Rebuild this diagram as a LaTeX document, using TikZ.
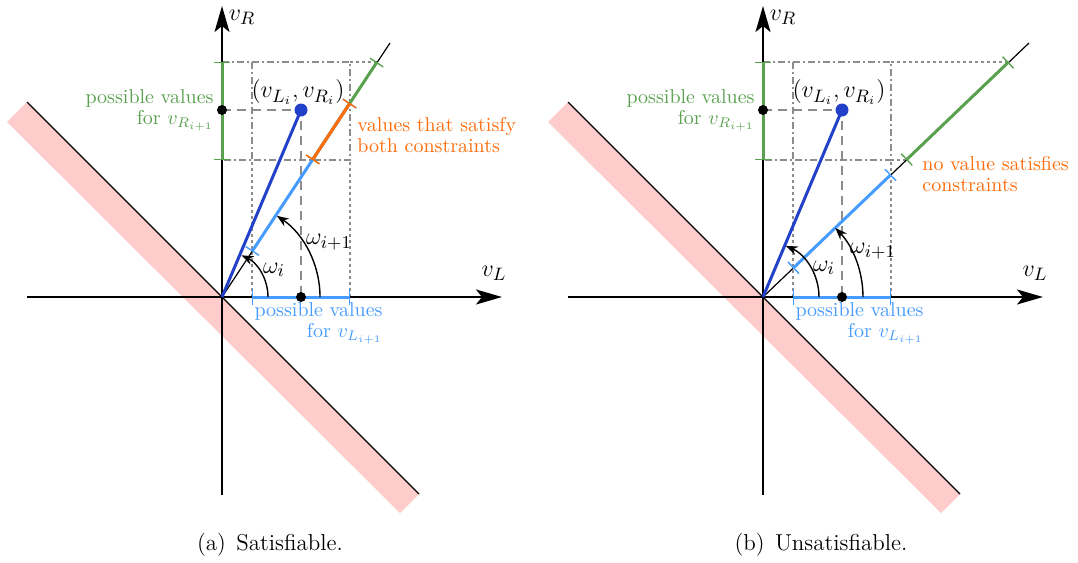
\documentclass[tikz,border=0pt]{standalone}
\usetikzlibrary{arrows.meta}
\definecolor{cgreen}{RGB}{89,161,79}
\definecolor{corange}{RGB}{255,108,10}
\definecolor{clblue}{RGB}{70,155,255}
\definecolor{cdblue}{RGB}{35,65,200}
\definecolor{cpink}{RGB}{255,204,204}
\definecolor{cgray}{RGB}{140,140,140}
\begin{document}
\begin{tikzpicture}[x=0.5pt,y=-0.5pt,
  axis/.style={line width=0.9pt,-{Stealth[length=13pt,width=7.5pt,inset=3pt]}},
  boundary/.style={line width=0.6pt},
  band/.style={fill=cpink,draw=none},
  ray/.style={line width=0.6pt},
  seg/.style={line width=1.5pt,{Bar[width=8pt,line width=0.7pt]}-{Bar[width=8pt,line width=0.7pt]}},
  dotline/.style={cgray,line width=0.6pt,dash pattern=on 1.5pt off 1.5pt},
  dashdotline/.style={cgray,line width=0.6pt,dash pattern=on 3.5pt off 1.5pt on 1pt off 1.5pt},
  guide/.style={cgray,line width=0.6pt,dash pattern=on 4.5pt off 3pt},
  angarrow/.style={line width=0.7pt,-{Stealth[length=6pt,width=4.5pt]}},
  lbl/.style={font=\fontsize{10}{10.5}\selectfont,inner sep=0pt},
  mlbl/.style={font=\fontsize{12.5}{14}\selectfont,inner sep=0pt},
  dot/.style={circle,fill=black,inner sep=0pt,minimum size=5pt},
  bigdot/.style={circle,fill=cdblue,inner sep=0pt,minimum size=6.5pt},
  caption/.style={font=\fontsize{11.5}{13}\selectfont,inner sep=0pt}]
\useasboundingbox (0,0) rectangle (1078,563);

% ---------------- panel (a) ----------------
\begin{scope}
\coordinate (aO) at (222,297);
\coordinate (aXl) at (27,297);  \coordinate (aXr) at (502,297);
\coordinate (aYb) at (222,495); \coordinate (aYt) at (222,6);
\coordinate (aA) at (27,102);   \coordinate (aB) at (419,494);
\coordinate (aE) at (390,43);
\coordinate (aL1) at (252,251.5); \coordinate (aL2) at (350,103);
\coordinate (aG1) at (312.4,160); \coordinate (aG2) at (377,62);
\coordinate (aIy1) at (222,62);  \coordinate (aIy2) at (222,160);
\coordinate (aIx1) at (252,297); \coordinate (aIx2) at (350,297);
\fill[band] (27,102) -- (419,494) -- (400,513) -- (7,122) -- cycle;
\draw[boundary] (aA) -- (aB);
\draw[dotline] (252,297) -- (252,160);
\draw[dotline] (350,297) -- (350,160);
\draw[dotline] (350,62) -- (aG2);
\draw[dashdotline] (aIy1) -- (350,62) -- (350,160) -- (aIy2);
\draw[dashdotline] (252,62) -- (252,160);
\draw[guide] (222,110) -- (301,110) -- (301,297);
\draw[axis] (aXl) -- (aXr);
\draw[axis] (aYb) -- (aYt);
\draw[ray] (aO) -- (aE);
\draw[seg,clblue] (aL1) -- (aL2);
\draw[seg,cgreen] (aG1) -- (aG2);
\draw[seg,corange] (aG1) -- (aL2);
\draw[seg,cgreen] (aIy1) -- (aIy2);
\draw[seg,clblue] (aIx1) -- (aIx2);
\draw[line width=1.5pt,cdblue] (aO) -- (301,110);
\node[bigdot] (aP) at (301,110) {};
\node[dot] (aPy) at (222,110) {};
\node[dot] (aPx) at (301,297) {};
\draw[angarrow] (268,297) arc[start angle=0,end angle=65,radius=23pt];
\draw[angarrow] (320,297) arc[start angle=0,end angle=56,radius=49pt];
\node[mlbl] (aWi) at (274,270) {$\omega_i$};
\node[mlbl] (aWj) at (329,242) {$\omega_{i+1}$};
\node[mlbl] (aVR) at (242,17) {$v_R$};
\node[mlbl] (aVL) at (494,273) {$v_L$};
\node[mlbl] (aPt) at (298,92) {$\bigl(v_{L_i},v_{R_i}\bigr)$};
\node[lbl,anchor=east,align=right,text=cgreen] (aTR) at (214,110) {possible values\\for $v_{R_{i+1}}$};
\node[lbl,anchor=west,align=left,text=corange] (aTO) at (357,135) {values that satisfy\\both constraints};
\node[lbl,anchor=east,align=right,text=clblue] (aTL) at (383,323) {possible values\\for $v_{L_{i+1}}$};
\node[caption] (aCap) at (270,545) {(a)\hspace{0.45em}Satisfiable.};
\end{scope}

% ---------------- panel (b) ----------------
\begin{scope}[shift={(541,0)}]
\coordinate (bO) at (222,297);
\coordinate (bXl) at (27,297);  \coordinate (bXr) at (502,297);
\coordinate (bYb) at (222,495); \coordinate (bYt) at (222,6);
\coordinate (bA) at (27,102);   \coordinate (bB) at (419,494);
\coordinate (bE) at (488,43);
\coordinate (bL1) at (252,268.3); \coordinate (bL2) at (350,174.5);
\coordinate (bG1) at (365.2,160); \coordinate (bG2) at (467.6,62);
\coordinate (bIy1) at (222,62);  \coordinate (bIy2) at (222,160);
\coordinate (bIx1) at (252,297); \coordinate (bIx2) at (350,297);
\fill[band] (27,102) -- (419,494) -- (400,513) -- (7,122) -- cycle;
\draw[boundary] (bA) -- (bB);
\draw[dotline] (252,297) -- (252,160);
\draw[dotline] (350,297) -- (350,160);
\draw[dotline] (350,62) -- (bG2);
\draw[dotline] (350,160) -- (bG1);
\draw[dashdotline] (bIy1) -- (350,62) -- (350,160) -- (bIy2);
\draw[dashdotline] (252,62) -- (252,160);
\draw[guide] (222,110) -- (301,110) -- (301,297);
\draw[axis] (bXl) -- (bXr);
\draw[axis] (bYb) -- (bYt);
\draw[ray] (bO) -- (bE);
\draw[seg,clblue] (bL1) -- (bL2);
\draw[seg,cgreen] (bG1) -- (bG2);
\draw[seg,cgreen] (bIy1) -- (bIy2);
\draw[seg,clblue] (bIx1) -- (bIx2);
\draw[line width=1.5pt,cdblue] (bO) -- (301,110);
\node[bigdot] (bP) at (301,110) {};
\node[dot] (bPy) at (222,110) {};
\node[dot] (bPx) at (301,297) {};
\draw[angarrow] (278,297) arc[start angle=0,end angle=66,radius=28pt];
\draw[angarrow] (322,297) arc[start angle=0,end angle=43.7,radius=50pt];
\node[mlbl] (bWi) at (283,268) {$\omega_i$};
\node[mlbl] (bWj) at (332,251) {$\omega_{i+1}$};
\node[mlbl] (bVR) at (242,17) {$v_R$};
\node[mlbl] (bVL) at (494,273) {$v_L$};
\node[mlbl] (bPt) at (298,92) {$\bigl(v_{L_i},v_{R_i}\bigr)$};
\node[lbl,anchor=east,align=right,text=cgreen] (bTR) at (214,110) {possible values\\for $v_{R_{i+1}}$};
\node[lbl,anchor=west,align=left,text=corange] (bTO) at (381,174) {no value satisfies\\constraints};
\node[lbl,anchor=east,align=right,text=clblue] (bTL) at (383,323) {possible values\\for $v_{L_{i+1}}$};
\node[caption] (bCap) at (280,545) {(b)\hspace{0.45em}Unsatisfiable.};
\end{scope}
\end{tikzpicture}
\end{document}
